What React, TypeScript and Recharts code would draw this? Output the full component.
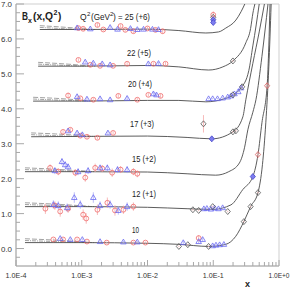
import React from "react";
import { ComposedChart, Line, Scatter, XAxis, YAxis, ErrorBar, ReferenceArea } from "recharts";

type P = { x: number; y: number; e?: number };

const FONT = "'Liberation Sans', Arial, Helvetica, sans-serif";

const binLabels = ["25 (+6)", "22 (+5)", "20 (+4)", "17 (+3)", "15 (+2)", "12 (+1)", "10"];

const xMajorTicks = [1e-4, 1e-3, 1e-2, 1e-1, 1];
const xMajorLabels = ["1.0E-4", "1.0E-3", "1.0E-2", "1.0E-1", "1.0E+0"];
const xMinorSteps = [2, 3, 4, 5, 6, 7, 8, 9];
const yMajorTicks = [0, 1, 2, 3, 4, 5, 6, 7];
const yMajorLabels = ["0.0", "1.0", "2.0", "3.0", "4.0", "5.0", "6.0", "7.0"];
const yMinorOffsets = [0.25, 0.5, 0.75];

// theory curves (solid), one per Q2 bin, offset included
const curve0: P[] = [
  { x: 1.37e-4, y: 0.17 }, { x: 1e-3, y: 0.17 }, { x: 1e-2, y: 0.15 }, { x: 0.03, y: 0.12 },
  { x: 0.085, y: 0.06 }, { x: 0.155, y: 0.12 }, { x: 0.22, y: 0.35 }, { x: 0.292, y: 0.77 },
  { x: 0.37, y: 1.2 }, { x: 0.479, y: 1.6 }, { x: 0.56, y: 2.4 }, { x: 0.63, y: 3.6 },
  { x: 0.7, y: 5.2 }, { x: 0.76, y: 7.0 },
];
const curve1: P[] = [
  { x: 1.37e-4, y: 1.2 }, { x: 1e-3, y: 1.2 }, { x: 1e-2, y: 1.18 }, { x: 0.04, y: 1.14 },
  { x: 0.098, y: 1.12 }, { x: 0.186, y: 1.25 }, { x: 0.282, y: 1.69 }, { x: 0.4, y: 2.06 },
  { x: 0.479, y: 2.69 }, { x: 0.55, y: 3.6 }, { x: 0.66, y: 4.66 }, { x: 0.7, y: 5.8 },
  { x: 0.73, y: 7.0 },
];
const curve2: P[] = [
  { x: 1.37e-4, y: 2.2 }, { x: 1e-3, y: 2.2 }, { x: 1e-2, y: 2.19 }, { x: 0.04, y: 2.14 },
  { x: 0.109, y: 2.1 }, { x: 0.172, y: 2.2 }, { x: 0.25, y: 2.45 }, { x: 0.3, y: 2.9 },
  { x: 0.336, y: 3.4 }, { x: 0.4, y: 3.9 }, { x: 0.446, y: 4.26 }, { x: 0.55, y: 5.5 },
  { x: 0.68, y: 7.0 },
];
const curve3: P[] = [
  { x: 1.7e-4, y: 3.2 }, { x: 1e-3, y: 3.21 }, { x: 1e-2, y: 3.22 }, { x: 0.04, y: 3.18 },
  { x: 0.095, y: 3.14 }, { x: 0.199, y: 3.34 }, { x: 0.282, y: 3.77 }, { x: 0.313, y: 4.26 },
  { x: 0.4, y: 5.3 }, { x: 0.5, y: 6.2 }, { x: 0.6, y: 7.0 },
];
const curve4: P[] = [
  { x: 1.82e-4, y: 4.22 }, { x: 1e-3, y: 4.22 }, { x: 1e-2, y: 4.24 }, { x: 0.03, y: 4.24 },
  { x: 0.077, y: 4.2 }, { x: 0.155, y: 4.3 }, { x: 0.265, y: 4.6 }, { x: 0.348, y: 5.1 },
  { x: 0.4, y: 5.8 }, { x: 0.45, y: 6.4 }, { x: 0.5, y: 7.0 },
];
const curve5: P[] = [
  { x: 2.17e-4, y: 5.22 }, { x: 1e-3, y: 5.22 }, { x: 1e-2, y: 5.24 }, { x: 0.03, y: 5.2 },
  { x: 0.085, y: 5.11 }, { x: 0.14, y: 5.2 }, { x: 0.199, y: 5.37 }, { x: 0.313, y: 5.89 },
  { x: 0.37, y: 6.3 }, { x: 0.401, y: 6.74 }, { x: 0.43, y: 7.0 },
];
const curve6: P[] = [
  { x: 2.3e-4, y: 6.27 }, { x: 1e-3, y: 6.27 }, { x: 1e-2, y: 6.28 }, { x: 0.03, y: 6.24 },
  { x: 0.077, y: 6.17 }, { x: 0.12, y: 6.2 }, { x: 0.155, y: 6.31 }, { x: 0.221, y: 6.54 },
  { x: 0.265, y: 6.78 }, { x: 0.302, y: 7.0 },
];
const solidCurves = [curve0, curve1, curve2, curve3, curve4, curve5, curve6];

// alternative theory curves: visible only at small x, above the solid ones
const dashedCurves: P[][] = [
  [{ x: 1.37e-4, y: 0.28 }, { x: 4e-4, y: 0.24 }, { x: 1.3e-3, y: 0.18 }],
  [{ x: 1.37e-4, y: 1.31 }, { x: 4e-4, y: 1.27 }, { x: 1.3e-3, y: 1.21 }],
  [{ x: 1.37e-4, y: 2.31 }, { x: 4e-4, y: 2.27 }, { x: 1.3e-3, y: 2.21 }],
  [{ x: 1.7e-4, y: 3.31 }, { x: 4e-4, y: 3.28 }, { x: 1.3e-3, y: 3.22 }],
  [{ x: 1.82e-4, y: 4.33 }, { x: 4e-4, y: 4.3 }, { x: 1.3e-3, y: 4.23 }],
  [{ x: 2.17e-4, y: 5.33 }, { x: 5e-4, y: 5.29 }, { x: 1.3e-3, y: 5.23 }],
  [{ x: 2.3e-4, y: 6.38 }, { x: 5e-4, y: 6.34 }, { x: 1.3e-3, y: 6.28 }],
];
const dashDotCurves: P[][] = [
  [{ x: 1.37e-4, y: 0.23 }, { x: 6e-4, y: 0.19 }, { x: 1.6e-3, y: 0.17 }],
  [{ x: 1.37e-4, y: 1.26 }, { x: 6e-4, y: 1.22 }, { x: 1.6e-3, y: 1.2 }],
  [{ x: 1.37e-4, y: 2.26 }, { x: 6e-4, y: 2.22 }, { x: 1.6e-3, y: 2.2 }],
  [{ x: 1.7e-4, y: 3.26 }, { x: 6e-4, y: 3.22 }, { x: 1.6e-3, y: 3.21 }],
  [{ x: 1.82e-4, y: 4.28 }, { x: 6e-4, y: 4.24 }, { x: 1.6e-3, y: 4.22 }],
  [{ x: 2.17e-4, y: 5.28 }, { x: 6e-4, y: 5.24 }, { x: 1.6e-3, y: 5.22 }],
  [{ x: 2.3e-4, y: 6.33 }, { x: 6e-4, y: 6.29 }, { x: 1.6e-3, y: 6.27 }],
];

// data points
const circlePts: P[] = [
  // 25 (+6)
  { x: 8.9e-4, y: 6.31, e: 0.05 }, { x: 1.05e-3, y: 6.29, e: 0.05 }, { x: 1.73e-3, y: 6.4, e: 0.06 },
  { x: 2.13e-3, y: 6.27, e: 0.05 }, { x: 3.9e-3, y: 6.37, e: 0.05 }, { x: 4.6e-3, y: 6.26, e: 0.05 },
  { x: 6.1e-3, y: 6.22, e: 0.06 }, { x: 1.0e-2, y: 6.3, e: 0.05 }, { x: 1.32e-2, y: 6.26, e: 0.05 },
  { x: 1.7e-2, y: 6.22, e: 0.07 }, { x: 0.1, y: 6.69, e: 0.1 },
  // 22 (+5)
  { x: 8.9e-4, y: 5.4, e: 0.05 }, { x: 1.35e-3, y: 5.26, e: 0.04 }, { x: 1.9e-3, y: 5.23, e: 0.04 },
  { x: 3.0e-3, y: 5.23, e: 0.04 }, { x: 4.9e-3, y: 5.29, e: 0.05 }, { x: 1.23e-2, y: 5.29, e: 0.04 },
  { x: 1.88e-2, y: 5.29, e: 0.05 },
  // 20 (+4)
  { x: 6.2e-4, y: 4.38, e: 0.08 }, { x: 9.5e-4, y: 4.3, e: 0.05 }, { x: 1.5e-3, y: 4.26, e: 0.05 },
  { x: 3.6e-3, y: 4.37, e: 0.06 }, { x: 7.0e-3, y: 4.26, e: 0.05 }, { x: 1.03e-2, y: 4.4, e: 0.05 },
  { x: 1.58e-2, y: 4.37, e: 0.06 },
  // 17 (+3)
  { x: 5.2e-4, y: 3.34, e: 0.05 }, { x: 6.7e-4, y: 3.4, e: 0.05 }, { x: 9.5e-4, y: 3.23, e: 0.05 },
  { x: 1.2e-3, y: 3.2, e: 0.05 }, { x: 1.73e-3, y: 3.17, e: 0.05 }, { x: 3.0e-3, y: 3.31, e: 0.05 },
  // 15 (+2)
  { x: 3.3e-4, y: 2.31, e: 0.1 }, { x: 4.4e-4, y: 2.2, e: 0.1 }, { x: 8.0e-4, y: 2.17, e: 0.1 },
  { x: 1.13e-3, y: 2.03, e: 0.12 }, { x: 1.6e-3, y: 2.31, e: 0.12 }, { x: 2.05e-3, y: 2.29, e: 0.1 },
  { x: 2.9e-3, y: 2.17, e: 0.12 }, { x: 3.9e-3, y: 2.26, e: 0.1 }, { x: 6.1e-3, y: 2.2, e: 0.1 },
  { x: 7.0e-3, y: 2.14, e: 0.1 },
  // 12 (+1)
  { x: 2.8e-4, y: 1.14, e: 0.15 }, { x: 3.9e-4, y: 1.23, e: 0.12 }, { x: 4.7e-4, y: 1.06, e: 0.15 },
  { x: 6.2e-4, y: 1.14, e: 0.12 }, { x: 1.05e-3, y: 0.97, e: 0.15 }, { x: 1.17e-3, y: 0.86, e: 0.15 },
  { x: 1.73e-3, y: 1.11, e: 0.15 }, { x: 2.45e-3, y: 1.31, e: 0.15 }, { x: 3.2e-3, y: 1.09, e: 0.15 },
  { x: 4.3e-3, y: 1.11, e: 0.12 }, { x: 6.1e-3, y: 1.2, e: 0.12 },
  // 10
  { x: 3.7e-4, y: 0.26, e: 0.03 }, { x: 5.2e-4, y: 0.26, e: 0.03 }, { x: 8.5e-4, y: 0.26, e: 0.03 },
  { x: 1.2e-3, y: 0.2, e: 0.03 }, { x: 2.4e-3, y: 0.17, e: 0.03 }, { x: 6.1e-3, y: 0.17, e: 0.03 },
  { x: 9.3e-3, y: 0.17, e: 0.03 }, { x: 0.06, y: 0.3, e: 0.08 },
];

const trianglePts: P[] = [
  // 25 (+6)
  { x: 8.5e-4, y: 6.32, e: 0.04 }, { x: 1.35e-3, y: 6.29, e: 0.04 }, { x: 2.7e-3, y: 6.33, e: 0.04 },
  { x: 3.5e-3, y: 6.28, e: 0.04 }, { x: 5.5e-3, y: 6.3, e: 0.04 }, { x: 7.0e-3, y: 6.27, e: 0.04 },
  { x: 8.7e-3, y: 6.28, e: 0.04 }, { x: 1.19e-2, y: 6.28, e: 0.04 }, { x: 1.47e-2, y: 6.27, e: 0.04 },
  // 22 (+5)
  { x: 1.13e-3, y: 5.34, e: 0.04 }, { x: 1.5e-3, y: 5.31, e: 0.04 }, { x: 2.05e-3, y: 5.29, e: 0.04 },
  { x: 2.7e-3, y: 5.26, e: 0.04 }, { x: 1.03e-2, y: 5.29, e: 0.04 }, { x: 1.47e-2, y: 5.3, e: 0.04 },
  // 20 (+4)
  { x: 8.5e-4, y: 4.35, e: 0.05 }, { x: 1.2e-3, y: 4.28, e: 0.05 }, { x: 1.9e-3, y: 4.29, e: 0.05 },
  { x: 2.7e-3, y: 4.26, e: 0.05 }, { x: 4.9e-3, y: 4.3, e: 0.05 }, { x: 1.23e-2, y: 4.43, e: 0.05 },
  { x: 1.37e-2, y: 4.4, e: 0.05 }, { x: 0.085, y: 4.29, e: 0.02 }, { x: 0.098, y: 4.29, e: 0.02 },
  { x: 0.116, y: 4.29, e: 0.02 }, { x: 0.139, y: 4.31, e: 0.02 }, { x: 0.166, y: 4.34, e: 0.02 },
  { x: 0.186, y: 4.37, e: 0.02 }, { x: 0.21, y: 4.43, e: 0.02 }, { x: 0.24, y: 4.49, e: 0.02 },
  { x: 0.265, y: 4.6, e: 0.02 },
  // 17 (+3)
  { x: 6.2e-4, y: 3.37, e: 0.05 }, { x: 8.5e-4, y: 3.31, e: 0.05 }, { x: 1.02e-3, y: 3.26, e: 0.05 },
  { x: 2.5e-3, y: 3.31, e: 0.05 },
  // 15 (+2)
  { x: 3.9e-4, y: 2.23, e: 0.1 }, { x: 5.0e-4, y: 2.49, e: 0.1 }, { x: 5.6e-4, y: 2.4, e: 0.1 },
  { x: 6.2e-4, y: 2.34, e: 0.1 }, { x: 8.8e-4, y: 2.2, e: 0.1 }, { x: 1.25e-3, y: 2.23, e: 0.1 },
  { x: 1.9e-3, y: 2.31, e: 0.1 }, { x: 2.45e-3, y: 2.31, e: 0.1 }, { x: 3.5e-3, y: 2.26, e: 0.1 },
  { x: 4.9e-3, y: 2.26, e: 0.1 },
  // 12 (+1)
  { x: 3.7e-4, y: 1.26, e: 0.12 }, { x: 4.4e-4, y: 1.23, e: 0.12 }, { x: 6.0e-4, y: 1.17, e: 0.12 },
  { x: 7.7e-4, y: 1.46, e: 0.15 }, { x: 9.5e-4, y: 1.26, e: 0.12 }, { x: 1.5e-3, y: 1.46, e: 0.15 },
  { x: 1.9e-3, y: 1.23, e: 0.12 }, { x: 2.7e-3, y: 1.26, e: 0.12 }, { x: 3.6e-3, y: 1.09, e: 0.12 },
  { x: 4.9e-3, y: 1.2, e: 0.12 }, { x: 0.072, y: 1.14, e: 0.03 }, { x: 0.08, y: 1.15, e: 0.03 },
  { x: 0.092, y: 1.13, e: 0.03 }, { x: 0.105, y: 1.16, e: 0.03 }, { x: 0.12, y: 1.14, e: 0.03 },
  { x: 0.139, y: 1.17, e: 0.03 },
  // 10
  { x: 4.7e-4, y: 0.29, e: 0.03 }, { x: 6.7e-4, y: 0.26, e: 0.03 }, { x: 1.02e-3, y: 0.26, e: 0.03 },
  { x: 1.9e-3, y: 0.2, e: 0.03 }, { x: 4.3e-3, y: 0.19, e: 0.03 }, { x: 7.0e-3, y: 0.19, e: 0.03 },
  { x: 0.035, y: 0.17, e: 0.05 }, { x: 0.06, y: 0.2, e: 0.05 }, { x: 0.069, y: 0.26, e: 0.05 },
  { x: 0.098, y: 0.08, e: 0.03 }, { x: 0.11, y: 0.1, e: 0.03 }, { x: 0.125, y: 0.11, e: 0.03 },
  { x: 0.145, y: 0.12, e: 0.03 },
];

const diamondPts: P[] = [
  { x: 0.1, y: 6.62, e: 0.05 },
  { x: 0.199, y: 5.37, e: 0.02 },
  { x: 0.199, y: 4.4, e: 0.02 }, { x: 0.275, y: 4.63, e: 0.02 },
  { x: 0.071, y: 3.57, e: 0.25 }, { x: 0.199, y: 3.34, e: 0.02 }, { x: 0.221, y: 3.37, e: 0.02 },
  { x: 0.049, y: 1.11, e: 0.02 }, { x: 0.06, y: 1.09, e: 0.02 }, { x: 0.098, y: 1.2, e: 0.02 },
  { x: 0.166, y: 1.06, e: 0.02 },
  { x: 0.03, y: 0.06, e: 0.02 }, { x: 0.041, y: 0.11, e: 0.02 }, { x: 0.085, y: 0.06, e: 0.02 },
  { x: 0.292, y: 0.77, e: 0.02 }, { x: 0.37, y: 1.2, e: 0.02 }, { x: 0.479, y: 1.6, e: 0.02 },
];
const redDiamondPts: P[] = [
  { x: 0.479, y: 2.69, e: 0.06 }, { x: 0.66, y: 4.66, e: 0.08 },
];
const blueDiamondPts: P[] = [
  { x: 0.1, y: 6.55, e: 0.04 }, { x: 0.1, y: 6.47, e: 0.04 }, { x: 0.095, y: 3.14, e: 0.03 },
  { x: 0.4, y: 2.06, e: 0.04 },
];

const PL = 16; // plot left
const PB = 266; // plot bottom

const xTicks: number[] = [];
xMajorTicks.forEach((m, i) => {
  xTicks.push(m);
  if (i < xMajorTicks.length - 1) xMinorSteps.forEach((s) => xTicks.push(m * s));
});
const yTicks: number[] = [-0.25];
yMajorTicks.forEach((m, i) => {
  yTicks.push(m);
  if (i < yMajorTicks.length - 1) yMinorOffsets.forEach((o) => yTicks.push(m + o));
});

const XTick = (props: any) => {
  const { x, payload } = props;
  const v = payload.value;
  const idx = xMajorTicks.findIndex((m) => Math.abs(m - v) / m < 1e-6);
  const major = idx >= 0;
  return (
    <g>
      <line x1={x} x2={x} y1={PB} y2={PB - (major ? 6 : 4)} stroke="#a8a8a8" strokeWidth={1} />
      {major && (
        <text x={x} y={278} textAnchor="middle" fontSize={8} fill="#333" fontFamily={FONT} textLength={21} lengthAdjust="spacingAndGlyphs">
          {xMajorLabels[idx]}
        </text>
      )}
    </g>
  );
};

const YTick = (props: any) => {
  const { y, payload } = props;
  const v = payload.value;
  const idx = yMajorTicks.findIndex((m) => Math.abs(m - v) < 1e-6);
  const major = idx >= 0;
  return (
    <g>
      <line x1={PL} x2={PL + (major ? 8 : 4)} y1={y} y2={y} stroke="#a8a8a8" strokeWidth={1} />
      {major && (
        <text x={12} y={y + 3} textAnchor="end" fontSize={8} fill="#333" fontFamily={FONT} textLength={11} lengthAdjust="spacingAndGlyphs">
          {yMajorLabels[idx]}
        </text>
      )}
    </g>
  );
};

const CircleShape = (p: any) => (
  <circle cx={p.cx} cy={p.cy} r={2.4} fill="none" stroke="#f06a6a" strokeWidth={0.8} />
);
const TriangleShape = (p: any) => (
  <polygon
    points={`${p.cx},${p.cy - 2.8} ${p.cx - 2.8},${p.cy + 2} ${p.cx + 2.8},${p.cy + 2}`}
    fill="none"
    stroke="#6a6af0"
    strokeWidth={0.8}
  />
);
const DiamondShape = (p: any) => (
  <polygon
    points={`${p.cx},${p.cy - 3} ${p.cx + 2.6},${p.cy} ${p.cx},${p.cy + 3} ${p.cx - 2.6},${p.cy}`}
    fill="none"
    stroke="#555"
    strokeWidth={0.8}
  />
);
const RedDiamondShape = (p: any) => (
  <polygon
    points={`${p.cx},${p.cy - 3} ${p.cx + 2.6},${p.cy} ${p.cx},${p.cy + 3} ${p.cx - 2.6},${p.cy}`}
    fill="none"
    stroke="#d86060"
    strokeWidth={0.8}
  />
);
const BlueDiamondShape = (p: any) => (
  <polygon
    points={`${p.cx},${p.cy - 3} ${p.cx + 2.6},${p.cy} ${p.cx},${p.cy + 3} ${p.cx - 2.6},${p.cy}`}
    fill="#7d7df0"
    stroke="#4646c8"
    strokeWidth={0.8}
  />
);

const labelPos = [
  { x: 118, y: 20, w: 32 },
  { x: 127, y: 56, w: 24 },
  { x: 128, y: 87, w: 24 },
  { x: 130, y: 127, w: 24 },
  { x: 132, y: 162, w: 24 },
  { x: 132, y: 197, w: 24 },
  { x: 132, y: 233, w: 7 },
];

export default function App() {
  return (
    <div style={{ position: "absolute", left: 0, top: 0, width: 290, height: 288, background: "#fff" }}>
      <div style={{ position: "absolute", left: 0, top: 0 }}>
        <ComposedChart width={290} height={288} margin={{ top: 4, right: 11, bottom: 0, left: 0 }}>
          <XAxis
            dataKey="x"
            type="number"
            scale="log"
            domain={[1e-4, 1]}
            allowDataOverflow
            ticks={xTicks}
            interval={0}
            tick={XTick}
            tickLine={false}
            axisLine={{ stroke: "#a8a8a8" }}
            height={22}
          />
          <YAxis
            dataKey="y"
            type="number"
            domain={[-0.5, 7]}
            allowDataOverflow
            ticks={yTicks}
            interval={0}
            tick={YTick}
            tickLine={false}
            axisLine={{ stroke: "#a8a8a8" }}
            width={16}
          />
          <ReferenceArea x1={1e-4} x2={1} y1={-0.5} y2={7} fill="none" stroke="#cfcfcf" strokeWidth={1} />
          {dashedCurves.map((c, i) => (
            <Line key={"d" + i} data={c} dataKey="y" type="monotone" stroke="#8a8a8a" strokeWidth={0.8}
              strokeDasharray="5 2" dot={false} isAnimationActive={false} />
          ))}
          {dashDotCurves.map((c, i) => (
            <Line key={"dd" + i} data={c} dataKey="y" type="monotone" stroke="#8a8a8a" strokeWidth={0.8}
              strokeDasharray="4 1 1 1" dot={false} isAnimationActive={false} />
          ))}
          {solidCurves.map((c, i) => (
            <Line key={"s" + i} data={c} dataKey="y" type="monotone" stroke="#4a4a4a" strokeWidth={0.9}
              dot={false} isAnimationActive={false} />
          ))}
          <Scatter data={circlePts} shape={CircleShape} isAnimationActive={false}>
            <ErrorBar dataKey="e" direction="y" width={0} stroke="#f5a8a8" strokeWidth={0.8} />
          </Scatter>
          <Scatter data={trianglePts} shape={TriangleShape} isAnimationActive={false}>
            <ErrorBar dataKey="e" direction="y" width={0} stroke="#aaaaf5" strokeWidth={0.8} />
          </Scatter>
          <Scatter data={diamondPts} shape={DiamondShape} isAnimationActive={false}>
            <ErrorBar dataKey="e" direction="y" width={0} stroke="#f5a8a8" strokeWidth={0.8} />
          </Scatter>
          <Scatter data={redDiamondPts} shape={RedDiamondShape} isAnimationActive={false}>
            <ErrorBar dataKey="e" direction="y" width={0} stroke="#f5a8a8" strokeWidth={0.8} />
          </Scatter>
          <Scatter data={blueDiamondPts} shape={BlueDiamondShape} isAnimationActive={false}>
            <ErrorBar dataKey="e" direction="y" width={0} stroke="#aaaaf5" strokeWidth={0.8} />
          </Scatter>
        </ComposedChart>
      </div>
      <svg width={290} height={288} style={{ position: "absolute", left: 0, top: 0, pointerEvents: "none" }}>
        <g fontFamily={FONT} fill="#222">
          <text x={22} y={20} fontSize={10} fontWeight="bold" textLength={6} lengthAdjust="spacingAndGlyphs">B</text>
          <text x={28} y={23} fontSize={7} fontWeight="bold">x</text>
          <text x={33} y={20} fontSize={10} fontWeight="bold" textLength={20} lengthAdjust="spacingAndGlyphs">(x,Q</text>
          <text x={53.5} y={15} fontSize={7} fontWeight="bold">2</text>
          <text x={58} y={20} fontSize={10} fontWeight="bold">)</text>

          <text x={80} y={20} fontSize={8.5}>Q</text>
          <text x={87} y={16} fontSize={6}>2</text>
          <text x={91} y={20} fontSize={8.5} textLength={19} lengthAdjust="spacingAndGlyphs">(GeV</text>
          <text x={110} y={16} fontSize={6}>2</text>
          <text x={113} y={20} fontSize={8.5}>)</text>
          {binLabels.map((t, i) => (
            <text key={t} x={labelPos[i].x} y={labelPos[i].y} fontSize={8.5}
              textLength={i === 0 ? 32 : labelPos[i].w} lengthAdjust="spacingAndGlyphs">
              {i === 0 ? "= " + t : t}
            </text>
          ))}
          <text x={245} y={287} fontSize={9} fontWeight="bold">x</text>
        </g>
      </svg>
    </div>
  );
}
